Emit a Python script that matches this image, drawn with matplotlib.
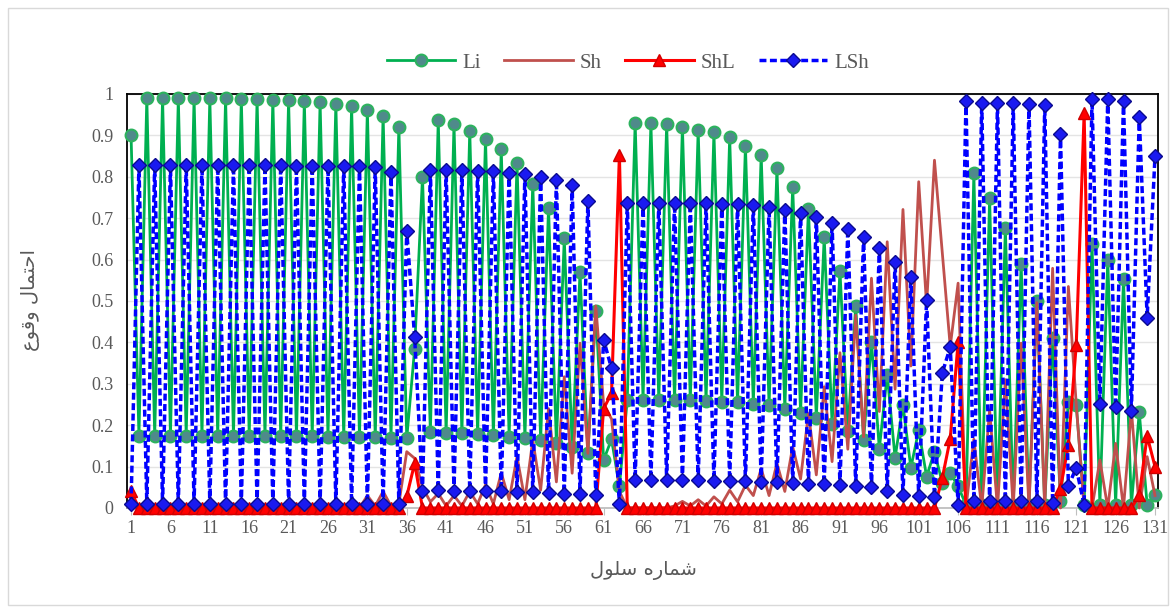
import numpy as np
import matplotlib.pyplot as plt
from matplotlib.patches import Rectangle

# cell index 1..131
cells = np.arange(1, 132)

# Li series (green, circles)
li = [
    0.90, 0.175, 0.99, 0.175, 0.99, 0.175, 0.99, 0.175, 0.99, 0.175,
    0.99, 0.175, 0.99, 0.174, 0.988, 0.174, 0.987, 0.174, 0.986, 0.173,
    0.985, 0.173, 0.983, 0.173, 0.98, 0.172, 0.976, 0.172, 0.97, 0.171,
    0.962, 0.171, 0.948, 0.170, 0.921, 0.168, 0.384, 0.80, 0.184, 0.937,
    0.181, 0.927, 0.180, 0.911, 0.178, 0.892, 0.176, 0.866, 0.172, 0.833,
    0.169, 0.783, 0.164, 0.724, 0.157, 0.651, 0.148, 0.569, 0.132, 0.476,
    0.116, 0.166, 0.052, 0.262, 0.931, 0.262, 0.929, 0.261, 0.927, 0.261,
    0.921, 0.26, 0.913, 0.259, 0.907, 0.257, 0.895, 0.255, 0.875, 0.252,
    0.853, 0.248, 0.82, 0.24, 0.776, 0.23, 0.723, 0.218, 0.654, 0.204,
    0.573, 0.186, 0.488, 0.165, 0.402, 0.143, 0.322, 0.121, 0.249, 0.097,
    0.188, 0.076, 0.136, 0.06, 0.085, 0.052, 0.008, 0.808, 0.008, 0.748,
    0.008, 0.676, 0.008, 0.59, 0.008, 0.501, 0.008, 0.41, 0.016, 0.257,
    0.249, 0.008, 0.638, 0.008, 0.60, 0.008, 0.553, 0.008, 0.231, 0.008,
    0.031,
]

# Sh series (brown line, no markers)
sh = [
    0, 0, 0, 0, 0, 0, 0, 0, 0, 0,
    0, 0, 0, 0, 0, 0, 0, 0, 0, 0,
    0, 0, 0, 0, 0, 0, 0, 0, 0, 0,
    0.03, 0.005, 0.04, 0.005, 0.01, 0.136, 0.12, 0.05, 0.015, 0.035,
    0.005, 0.03, 0.005, 0.04, 0.01, 0.056, 0.01, 0.085, 0.02, 0.124,
    0.02, 0.164, 0.043, 0.24, 0.063, 0.317, 0.084, 0.398, 0.132, 0.488,
    0.25, 0.215, 0.04, 0, 0, 0, 0, 0, 0, 0.005,
    0.016, 0.005, 0.02, 0.005, 0.027, 0.01, 0.043, 0.015, 0.055, 0.03,
    0.095, 0.03, 0.108, 0.04, 0.148, 0.07, 0.228, 0.08, 0.293, 0.112,
    0.375, 0.142, 0.466, 0.172, 0.555, 0.233, 0.643, 0.287, 0.721, 0.343,
    0.788, 0.49, 0.84, 0.615, 0.39, 0.543, 0, 0.166, 0, 0.237,
    0, 0.31, 0, 0.398, 0, 0.496, 0, 0.579, 0, 0.535,
    0.25, 0, 0, 0.116, 0, 0.156, 0, 0.237, 0, 0.124,
    0.03,
]

# ShL series (red, triangles)
shl = [
    0.04, 0, 0, 0, 0, 0, 0, 0, 0, 0,
    0, 0, 0, 0, 0, 0, 0, 0, 0, 0,
    0, 0, 0, 0, 0, 0, 0, 0, 0, 0,
    0, 0, 0, 0, 0, 0.028, 0.108, 0, 0, 0,
    0, 0, 0, 0, 0, 0, 0, 0, 0, 0,
    0, 0, 0, 0, 0, 0, 0, 0, 0, 0,
    0.24, 0.277, 0.853, 0, 0, 0, 0, 0, 0, 0,
    0, 0, 0, 0, 0, 0, 0, 0, 0, 0,
    0, 0, 0, 0, 0, 0, 0, 0, 0, 0,
    0, 0, 0, 0, 0, 0, 0, 0, 0, 0,
    0, 0, 0, 0.073, 0.167, 0.40, 0, 0, 0, 0,
    0, 0, 0, 0, 0, 0, 0, 0, 0.047, 0.152,
    0.394, 0.953, 0, 0, 0, 0, 0, 0, 0.031, 0.174,
    0.10,
]

# LSh series (blue dashed, diamonds)
lsh = [
    0.01, 0.828, 0.01, 0.828, 0.01, 0.828, 0.01, 0.828, 0.01, 0.828,
    0.01, 0.828, 0.01, 0.828, 0.01, 0.828, 0.01, 0.828, 0.01, 0.828,
    0.01, 0.827, 0.01, 0.826, 0.01, 0.826, 0.01, 0.825, 0.01, 0.825,
    0.01, 0.823, 0.01, 0.812, 0.01, 0.669, 0.414, 0.042, 0.816, 0.043,
    0.816, 0.042, 0.816, 0.042, 0.815, 0.042, 0.813, 0.04, 0.81, 0.039,
    0.806, 0.038, 0.80, 0.037, 0.793, 0.035, 0.779, 0.035, 0.742, 0.031,
    0.406, 0.337, 0.01, 0.737, 0.068, 0.737, 0.068, 0.737, 0.068, 0.737,
    0.068, 0.736, 0.067, 0.736, 0.066, 0.735, 0.066, 0.734, 0.065, 0.733,
    0.063, 0.727, 0.062, 0.72, 0.06, 0.712, 0.058, 0.704, 0.057, 0.689,
    0.055, 0.675, 0.054, 0.654, 0.05, 0.627, 0.042, 0.595, 0.031, 0.559,
    0.029, 0.502, 0.027, 0.327, 0.388, 0.007, 0.983, 0.016, 0.979, 0.016,
    0.979, 0.016, 0.977, 0.016, 0.976, 0.016, 0.973, 0.011, 0.903, 0.053,
    0.097, 0.007, 0.987, 0.25, 0.987, 0.243, 0.984, 0.235, 0.945, 0.46,
    0.85,
]

x_ticks = list(range(1, 132, 5))
y_ticks = [0, 0.1, 0.2, 0.3, 0.4, 0.5, 0.6, 0.7, 0.8, 0.9, 1]
y_ticklabels = ['0', '0.1', '0.2', '0.3', '0.4', '0.5', '0.6', '0.7', '0.8', '0.9', '1']

# Persian labels, pre-shaped (presentation forms, visual order)
x_label = '\uFEDD\uFEEE\uFEE0\uFEB3 \uFEE9\uFEAD\uFE8E\uFEE4\uFEB7'  # شماره سلول
y_label = '\uFEC9\uFEEE\uFED7\uFEED \uFEDD\uFE8E\uFEE4\uFE98\uFEA3\uFE8D'  # احتمال وقوع

plt.rcParams['font.family'] = ['Liberation Serif', 'DejaVu Sans']
grey = '#595959'

fig = plt.figure(figsize=(11.76, 6.13), dpi=100)
ax = fig.add_axes([0.1083, 0.1713, 0.8764, 0.6754])

ax.plot(cells, li, color='#00B050', lw=2, marker='o', ms=8.5,
        mfc='#4F8A8B', mec='#2DB25E', mew=1.5, label='Li', clip_on=False, zorder=3)
ax.plot(cells, sh, color='#C0504D', lw=2, label='Sh', clip_on=False, zorder=4)
ax.plot(cells, shl, color='#FF0000', lw=2.2, marker='^', ms=8.5,
        mfc='#FF0000', mec='#D00000', mew=1, label='ShL', clip_on=False, zorder=5)
ax.plot(cells, lsh, color='#0000FF', lw=2.5, ls=(0, (2, 1)), marker='D', ms=7.5,
        mfc='#1A1AF0', mec='#0A0A90', mew=1, label='LSh', clip_on=False, zorder=6)

ax.set_xlim(0.53, 131.38)
ax.set_ylim(0, 1.0)
ax.set_xticks(x_ticks)
ax.set_xticklabels([str(t) for t in x_ticks])
ax.set_yticks(y_ticks)
ax.set_yticklabels(y_ticklabels)
ax.tick_params(axis='both', labelsize=13, labelcolor=grey)
ax.tick_params(axis='y', length=0, pad=10)
ax.tick_params(axis='x', length=5, color='#BFBFBF', pad=4)
ax.grid(axis='y', color='#E4E4E4', lw=1)
ax.set_axisbelow(True)

for side in ['top', 'left', 'right']:
    ax.spines[side].set_color('black')
    ax.spines[side].set_linewidth(1.3)
ax.spines['bottom'].set_color('#BFBFBF')
ax.spines['bottom'].set_linewidth(1.3)

fig.text(643 / 1176, 1 - 570 / 613, x_label, ha='center', va='center',
         fontsize=14, color=grey, family=['DejaVu Sans'])
fig.text(30 / 1176, 1 - 300 / 613, y_label, ha='center', va='center',
         rotation=90, fontsize=14, color=grey, family=['DejaVu Sans'])

fig.legend(loc='center', bbox_to_anchor=(628 / 1176, 1 - 63 / 613), ncol=4,
           frameon=False, fontsize=15, handlelength=3.3, columnspacing=1.1,
           handletextpad=0.35, labelcolor=grey)

fig.patches.append(Rectangle((8 / 1176, 8 / 613), 1160 / 1176, 597 / 613,
                             transform=fig.transFigure, fill=False,
                             edgecolor='#D9D9D9', lw=1))

fig.savefig('out.png', dpi=100)
